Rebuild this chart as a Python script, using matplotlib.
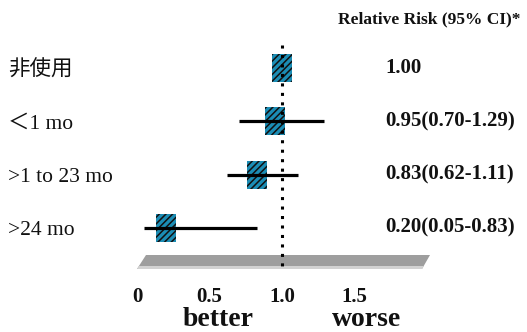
import matplotlib
matplotlib.use("Agg")
import matplotlib.pyplot as plt
from matplotlib.patches import Rectangle, Polygon

plt.rcParams['hatch.linewidth'] = 1.1

# ---- data ----
categories = ["非使用", "＜1 mo", ">1 to 23 mo", ">24 mo"]
rr = [1.00, 0.95, 0.83, 0.20]
ci_low = [None, 0.70, 0.62, 0.05]
ci_high = [None, 1.29, 1.11, 0.83]
rr_labels = ["1.00", "0.95(0.70-1.29)", "0.83(0.62-1.11)", "0.20(0.05-0.83)"]
tick_values = [0, 0.5, 1.0, 1.5]
tick_labels = ["0", "0.5", "1.0", "1.5"]
header = "Relative Risk (95% CI)*"

W, H = 527, 332
fig = plt.figure(figsize=(W / 100, H / 100), dpi=100)
ax = fig.add_axes([0, 0, 1, 1])
x0_px, ppu = 137.0, 145.0
row0_px, row_px = 68.0, 53.3
ax.set_xlim(-x0_px / ppu, (W - x0_px) / ppu)
ax.set_ylim((H - row0_px) / row_px, -row0_px / row_px)
ax.axis('off')

def py(p):  # pixel y -> data y
    return (p - row0_px) / row_px

def px(p):  # pixel x -> data x
    return (p - x0_px) / ppu

serif = ['Liberation Serif', 'Noto Sans CJK JP']

# grey platform
plat = Polygon([(px(146), py(255)), (px(430), py(255)), (px(422), py(269)), (px(137), py(269))],
               closed=True, facecolor='#9e9e9e', edgecolor='none', zorder=1)
ax.add_patch(plat)
strip = Polygon([(px(139), py(266)), (px(424), py(266)), (px(422), py(269)), (px(137), py(269))],
                closed=True, facecolor='#d2d2d2', edgecolor='none', zorder=1.5)
ax.add_patch(strip)

bw = 20 / ppu
bh = 28 / row_px
for i, (v, lo, hi) in enumerate(zip(rr, ci_low, ci_high)):
    ax.add_patch(Rectangle((v - bw / 2, i - bh / 2), bw, bh, facecolor='#1b8db5',
                           edgecolor='#111111', hatch='/////', linewidth=0, zorder=2))
    if lo is not None:
        ax.plot([lo, hi], [i, i], color='black', lw=2.3, solid_capstyle='butt', zorder=3)

# reference dotted line
ax.plot([1.0, 1.0], [py(45), py(266)], color='black', lw=2.2,
        linestyle=(0, (1, 2.1)), dash_capstyle='butt', zorder=4)

# labels
for i, (c, lab) in enumerate(zip(categories, rr_labels)):
    ax.text(px(8), i + 0.05, c, ha='left', va='center', fontsize=15.5, family=serif, color='#111111')
    ax.text(px(385), i, lab, ha='left', va='center', fontsize=15, family=serif,
            fontweight='bold', color='#111111')

ax.text(px(521), py(19), header, ha='right', va='center', fontsize=12.5, family=serif,
        fontweight='bold', color='#111111')

for t, lab in zip(tick_values, tick_labels):
    ax.text(t, py(297), lab, ha='center', va='center', fontsize=15, family=serif,
            fontweight='bold', color='#111111')

ax.text(px(218), py(319), "better", ha='center', va='center', fontsize=20, family=serif,
        fontweight='bold', color='#111111')
ax.text(px(366), py(319), "worse", ha='center', va='center', fontsize=20, family=serif,
        fontweight='bold', color='#111111')

fig.savefig("out.png", dpi=100)
